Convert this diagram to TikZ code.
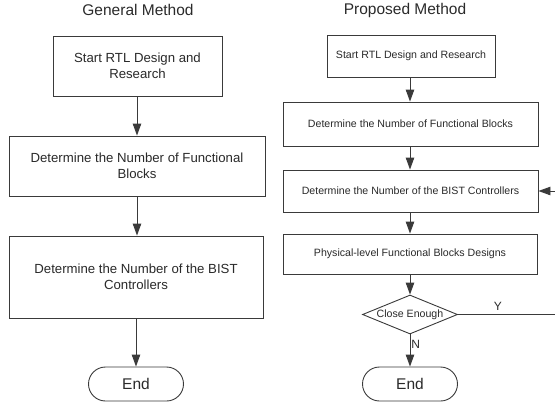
\documentclass[tikz,border=0pt]{standalone}
\usepackage{fontspec}
\setmainfont{Liberation Sans}
\usepackage{tikz}
\usetikzlibrary{shapes.geometric, arrows.meta, positioning}
\definecolor{flowline}{HTML}{3A3A3A}
\definecolor{flowtext}{HTML}{2A2A2A}

\begin{document}
\begin{tikzpicture}[x=1pt, y=-1pt,
  title/.style={font=\fontsize{15.5}{18}\selectfont, text=flowtext},
  bigbox/.style={rectangle, draw=flowline, line width=0.9pt, fill=white, align=center, text=flowtext, font=\fontsize{13.2}{16}\selectfont, inner sep=0pt},
  smallbox/.style={rectangle, draw=flowline, line width=0.9pt, fill=white, align=center, text=flowtext, font=\fontsize{10.6}{13}\selectfont, inner sep=0pt},
  decision/.style={diamond, draw=flowline, line width=0.9pt, fill=white, aspect=2.4, inner sep=0pt, text=flowtext, font=\fontsize{10.6}{13}\selectfont},
  terminal/.style={rectangle, rounded corners=17pt, draw=flowline, line width=0.9pt, fill=white, minimum width=95pt, minimum height=34pt, text=flowtext, font=\fontsize{15.5}{18}\selectfont},
  arr/.style={-{Triangle[length=12pt, width=8.5pt]}, flowline, line width=0.9pt},
  lbl/.style={text=flowtext, font=\fontsize{12}{14}\selectfont, inner sep=1pt}
]
\useasboundingbox (0,0) rectangle (555,410);

\node[title] (gtitle) at (138,10) {General Method};
\node[bigbox, minimum width=169pt, minimum height=60pt] (gstart) at (137.5,66) {Start RTL Design and\\Research};
\node[bigbox, minimum width=256pt, minimum height=60pt] (gfunc) at (137,166) {Determine the Number of Functional\\Blocks};
\node[bigbox, minimum width=254pt, minimum height=82pt] (gbist) at (136,277) {Determine the Number of the BIST\\Controllers};
\node[terminal] (gend) at (136,384) {End};

\node[title] (ptitle) at (405,10) {Proposed Method};
\node[smallbox, minimum width=168pt, minimum height=42pt] (pstart) at (411,56) {Start RTL Design and Research};
\node[smallbox, minimum width=255pt, minimum height=44pt] (pfunc) at (410.5,124) {Determine the Number of Functional Blocks};
\node[smallbox, minimum width=255pt, minimum height=42pt] (pbist) at (410.5,191) {Determine the Number of the BIST Controllers};
\node[smallbox, minimum width=254pt, minimum height=40pt] (pphys) at (410,254) {Physical-level Functional Blocks Designs};
\node[decision, minimum width=95pt, minimum height=39pt] (pclose) at (410,314.5) {Close Enough};
\node[terminal] (pend) at (410,384) {End};
\coordinate (ploop) at (572,314.5);

\draw[arr] (gstart.south -| gfunc.north) -- (gfunc.north);
\draw[arr] (gfunc.south) -- (gfunc.south |- gbist.north);
\draw[arr] (gbist.south -| gend.north) -- (gend.north);

\draw[arr] (pstart.south -| pclose.north) -- (pclose.north |- pfunc.north);
\draw[arr] (pfunc.south -| pclose.north) -- (pclose.north |- pbist.north);
\draw[arr] (pbist.south -| pclose.north) -- (pclose.north |- pphys.north);
\draw[arr] (pphys.south -| pclose.north) -- (pclose.north);
\draw[arr] (pclose.south) -- node[lbl, right, pos=0.3] {N} (pend.north);
\draw[arr] (pclose.east) -- node[lbl, above, pos=0.35, inner sep=4pt] {Y} (ploop) |- (pbist.east);
\end{tikzpicture}
\end{document}
